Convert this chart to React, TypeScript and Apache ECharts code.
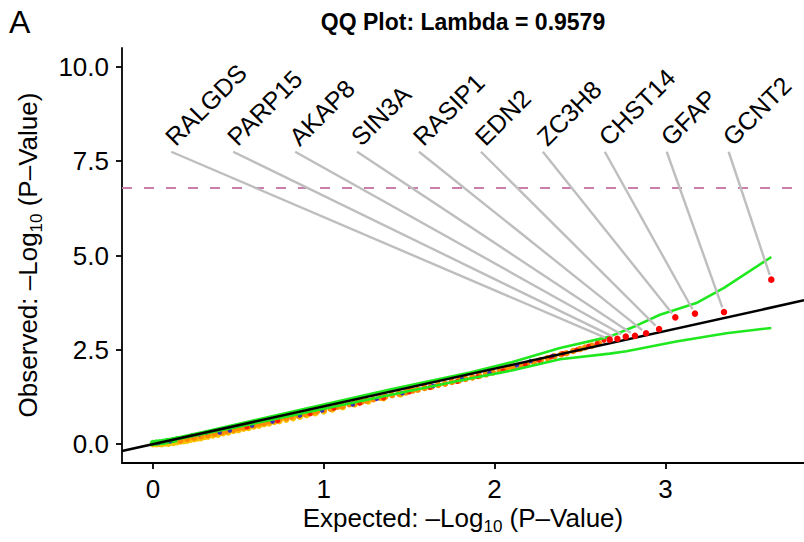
import React, { useEffect, useRef } from "react";
import * as echarts from "echarts";

const FONT = "'Liberation Sans', Arial, Helvetica, sans-serif";

const X_MIN = -0.1815;
const X_MAX = 3.8115;
const Y_MIN = -0.5;
const Y_MAX = 10.5;
const xTicks = [0, 1, 2, 3];
const yTicks = [0, 2.5, 5, 7.5, 10];
const titleText = "QQ Plot: Lambda = 0.9579";
const thresholdY = 6.8;

// labelled top genes (ordered by expected)
const geneNames = ["RALGDS", "PARP15", "AKAP8", "SIN3A", "RASIP1", "EDN2", "ZC3H8", "CHST14", "GFAP", "GCNT2"];
const geneExpected = [2.674, 2.719, 2.768, 2.822, 2.887, 2.963, 3.058, 3.173, 3.343, 3.62];
const geneObserved = [2.77, 2.79, 2.85, 2.87, 2.94, 3.05, 3.36, 3.46, 3.5, 4.36];

// confidence band
const ciExpected = [0.0, 0.3, 0.6, 1.0, 1.4, 1.856, 2.1, 2.383, 2.674, 2.83, 2.968, 3.181, 3.343, 3.62];
const ciUpper = [0.03, 0.33, 0.64, 1.05, 1.46, 1.9, 2.17, 2.55, 2.85, 3.14, 3.43, 3.74, 4.14, 4.96];
const ciLowerExpected = [0.0, 0.5, 1.0, 1.5, 1.856, 2.1, 2.383, 2.674, 2.772, 3.064, 3.357, 3.62];
const ciLower = [0.0, 0.46, 0.94, 1.41, 1.74, 1.95, 2.25, 2.4, 2.46, 2.72, 2.94, 3.08];

// point cloud, [expected, observed]
const yellowPts = [
  [0.0, 0.0], [0.02, 0.0], [0.04, 0.01], [0.05, 0.0], [0.07, 0.02], [0.09, 0.01], [0.1, 0.04], [0.12, 0.03],
  [0.14, 0.05], [0.16, 0.07], [0.18, 0.08], [0.2, 0.09], [0.22, 0.12], [0.24, 0.13], [0.26, 0.15], [0.28, 0.16],
  [0.3, 0.19], [0.32, 0.2], [0.35, 0.23], [0.38, 0.25], [0.41, 0.29], [0.44, 0.31], [0.47, 0.35], [0.5, 0.37],
  [0.53, 0.41], [0.56, 0.43], [0.59, 0.47], [0.62, 0.49], [0.65, 0.53], [0.68, 0.55], [0.71, 0.59], [0.74, 0.61],
  [0.78, 0.65], [0.82, 0.69], [0.86, 0.73], [0.9, 0.77], [0.95, 0.82], [1.0, 0.87], [1.05, 0.92], [1.11, 0.98],
  [1.18, 1.05], [1.26, 1.13], [1.35, 1.22], [1.45, 1.32],
  [0.15, 0.12], [0.25, 0.21], [0.35, 0.3], [0.45, 0.4], [0.55, 0.49], [0.65, 0.59], [0.75, 0.69], [0.85, 0.79],
];
const greenPts = [
  [0.0, 0.03], [0.02, 0.04], [0.04, 0.05], [0.06, 0.06], [0.08, 0.08], [0.1, 0.09], [0.12, 0.11], [0.14, 0.13],
];
const orangePts = [
  [0.16, 0.1], [0.2, 0.14], [0.24, 0.17], [0.28, 0.21], [0.32, 0.24], [0.36, 0.28], [0.4, 0.31], [0.43, 0.35],
  [0.47, 0.38], [0.5, 0.42], [0.53, 0.44], [0.56, 0.48], [0.59, 0.5], [0.62, 0.54], [0.65, 0.56], [0.68, 0.6],
  [0.71, 0.62], [0.74, 0.66], [0.78, 0.69], [0.81, 0.73], [0.85, 0.76], [0.89, 0.8], [0.93, 0.84], [0.96, 0.87],
  [1.0, 0.91], [1.04, 0.94], [1.08, 0.99], [1.11, 1.01], [1.15, 1.06], [1.18, 1.08], [1.22, 1.12], [1.25, 1.15],
  [1.29, 1.19], [1.33, 1.23], [1.36, 1.26], [1.4, 1.3], [1.44, 1.34], [1.48, 1.37], [1.52, 1.42], [1.55, 1.44],
  [1.59, 1.49], [1.63, 1.52], [1.67, 1.57], [1.71, 1.6], [1.75, 1.65], [1.79, 1.68], [1.83, 1.73], [1.87, 1.77],
  [1.91, 1.81], [1.95, 1.85], [1.99, 1.9], [2.03, 1.94], [2.07, 1.99], [2.11, 2.03], [2.15, 2.08], [2.19, 2.13],
  [2.23, 2.18], [2.27, 2.23], [2.31, 2.28], [2.35, 2.33], [2.39, 2.38], [2.42, 2.41], [2.46, 2.47], [2.5, 2.52],
  [2.53, 2.56], [2.57, 2.61], [2.61, 2.68],
  [0.6, 0.56], [0.9, 0.85], [1.2, 1.14], [1.5, 1.44], [1.8, 1.74], [2.1, 2.05],
];
const redPts = [
  [0.55, 0.45], [0.73, 0.62], [0.92, 0.8], [1.06, 0.95], [1.21, 1.08], [1.35, 1.22], [1.5, 1.38], [1.62, 1.5],
  [1.78, 1.66], [1.9, 1.79], [2.05, 1.95], [2.18, 2.1], [2.26, 2.22], [2.33, 2.31], [2.4, 2.4], [2.48, 2.5],
  [2.55, 2.6], [2.6, 2.67], [2.64, 2.75],
];
const bluePts = [
  [0.03, 0.03], [0.1, 0.08], [0.23, 0.24], [0.27, 0.26], [0.31, 0.3], [0.39, 0.31], [0.45, 0.36], [0.58, 0.49],
  [0.7, 0.6], [0.86, 0.76], [0.99, 0.89], [1.17, 1.05], [1.31, 1.2], [1.46, 1.35], [1.64, 1.54], [1.81, 1.72],
  [1.97, 1.89], [2.13, 2.09], [2.21, 2.2], [2.34, 2.34],
];

const LABEL_X0 = 0.107;
const LABEL_STEP = 0.3626;
const LABEL_Y = 7.75;

function scatter(data: number[][], color: string, size: number, z: number) {
  return {
    type: "scatter",
    data,
    symbol: "circle",
    symbolSize: size,
    itemStyle: { color, opacity: 1 },
    silent: true,
    z,
  };
}

const richStyles = {
  m: { fontSize: 26, fontFamily: FONT, fill: "#000", verticalAlign: "top", lineHeight: 30 },
  s: { fontSize: 17, fontFamily: FONT, fill: "#000", verticalAlign: "bottom", lineHeight: 17, padding: [13, 0, 0, 0] },
};

export default function App() {
  const ref = useRef<HTMLDivElement>(null);
  useEffect(() => {
    if (!ref.current) return;
    const chart = echarts.init(ref.current, null, { renderer: "svg" });
    const axisCommon = {
      type: "value",
      splitLine: { show: false },
      axisLine: { show: true, onZero: false, lineStyle: { color: "#000", width: 1.8 } },
    };
    const option: any = {
      animation: false,
      grid: { left: 122, right: 0, top: 48, bottom: 79, containLabel: false },
      xAxis: {
        ...axisCommon,
        min: X_MIN,
        max: X_MAX,
        axisTick: { show: true, length: 6, customValues: xTicks, lineStyle: { color: "#000", width: 1.8 } },
        axisLabel: { customValues: xTicks, margin: 13, fontSize: 26, color: "#000", fontFamily: FONT },
      },
      yAxis: {
        ...axisCommon,
        min: Y_MIN,
        max: Y_MAX,
        axisTick: { show: true, length: 6, customValues: yTicks, lineStyle: { color: "#000", width: 1.8 } },
        axisLabel: {
          customValues: yTicks,
          margin: 13,
          fontSize: 26,
          color: "#000",
          fontFamily: FONT,
          formatter: (v: number) => v.toFixed(1),
        },
      },
      series: [
        scatter(yellowPts, "#F8C400", 6.5, 2),
        scatter(greenPts, "#22E622", 6.5, 2),
        scatter(orangePts, "#FF8A00", 6.5, 2),
        scatter(bluePts, "#3B2FB5", 4.5, 2),
        scatter(redPts, "#FF1A00", 5, 2),
        {
          type: "line",
          data: ciExpected.map((x, i) => [x, ciUpper[i]]),
          showSymbol: false,
          lineStyle: { color: "#1FE81F", width: 2.6 },
          silent: true,
          z: 3,
        },
        {
          type: "line",
          data: ciLowerExpected.map((x, i) => [x, ciLower[i]]),
          showSymbol: false,
          lineStyle: { color: "#1FE81F", width: 2.6 },
          silent: true,
          z: 3,
        },
        {
          type: "line",
          data: [
            [X_MIN, X_MIN],
            [X_MAX, X_MAX],
          ],
          showSymbol: false,
          lineStyle: { color: "#000", width: 2.5 },
          silent: true,
          z: 4,
          markLine: {
            silent: true,
            symbol: ["none", "none"],
            label: { show: false },
            lineStyle: { color: "#C97FAA", width: 2, type: [10, 12] },
            data: [{ yAxis: thresholdY }],
          },
        },
        {
          type: "custom",
          data: geneExpected.map((x, i) => [x, geneObserved[i]]),
          clip: false,
          silent: true,
          z: 5,
          renderItem: (params: any, api: any) => {
            const i = params.dataIndex;
            const pt = api.coord([api.value(0), api.value(1)]);
            const a = api.coord([LABEL_X0 + i * LABEL_STEP, LABEL_Y]);
            const dx = pt[0] - a[0];
            const dy = pt[1] - a[1];
            const len = Math.hypot(dx, dy);
            const gap = 5;
            const ex = pt[0] - (dx / len) * gap;
            const ey = pt[1] - (dy / len) * gap;
            return {
              type: "group",
              children: [
                {
                  type: "line",
                  shape: { x1: a[0], y1: a[1], x2: ex, y2: ey },
                  style: { stroke: "#BEBEBE", lineWidth: 2.4 },
                },
                {
                  type: "text",
                  x: a[0] + 7,
                  y: a[1] - 2,
                  rotation: Math.PI / 4,
                  style: {
                    text: geneNames[i],
                    fill: "#000",
                    fontSize: 25,
                    fontFamily: FONT,
                    align: "left",
                    verticalAlign: "bottom",
                  },
                },
              ],
            };
          },
        },
        {
          type: "scatter",
          data: geneExpected.map((x, i) => [x, geneObserved[i]]),
          symbolSize: 6.5,
          itemStyle: { color: "#FF0000", opacity: 1 },
          silent: true,
          z: 6,
        },
      ],
      graphic: [
        {
          type: "text",
          left: 9,
          top: 6,
          style: { text: "A", fontSize: 32, fill: "#000", fontFamily: FONT },
        },
        {
          type: "text",
          x: 463,
          y: 22,
          style: {
            text: titleText,
            fontSize: 23,
            fontWeight: "bold",
            fill: "#000",
            fontFamily: FONT,
            align: "center",
            verticalAlign: "middle",
            textAlign: "center",
            textVerticalAlign: "middle",
          },
        },
        {
          type: "text",
          x: 463,
          y: 520,
          style: {
            text: "{m|Expected: –Log}{s|10}{m| (P–Value)}",
            fill: "#000",
            fontFamily: FONT,
            fontSize: 26,
            align: "center",
            verticalAlign: "middle",
            textAlign: "center",
            textVerticalAlign: "middle",
            rich: richStyles,
          },
        },
        {
          type: "text",
          x: 30,
          y: 255,
          rotation: Math.PI / 2,
          style: {
            text: "{m|Observed: –Log}{s|10}{m| (P–Value)}",
            fill: "#000",
            fontFamily: FONT,
            fontSize: 26,
            align: "center",
            verticalAlign: "middle",
            textAlign: "center",
            textVerticalAlign: "middle",
            rich: richStyles,
          },
        },
      ],
    };
    chart.setOption(option);
    return () => chart.dispose();
  }, []);
  return (
    <div
      ref={ref}
      style={{ position: "absolute", left: 0, top: 0, width: 804, height: 542, background: "#fff" }}
    />
  );
}
